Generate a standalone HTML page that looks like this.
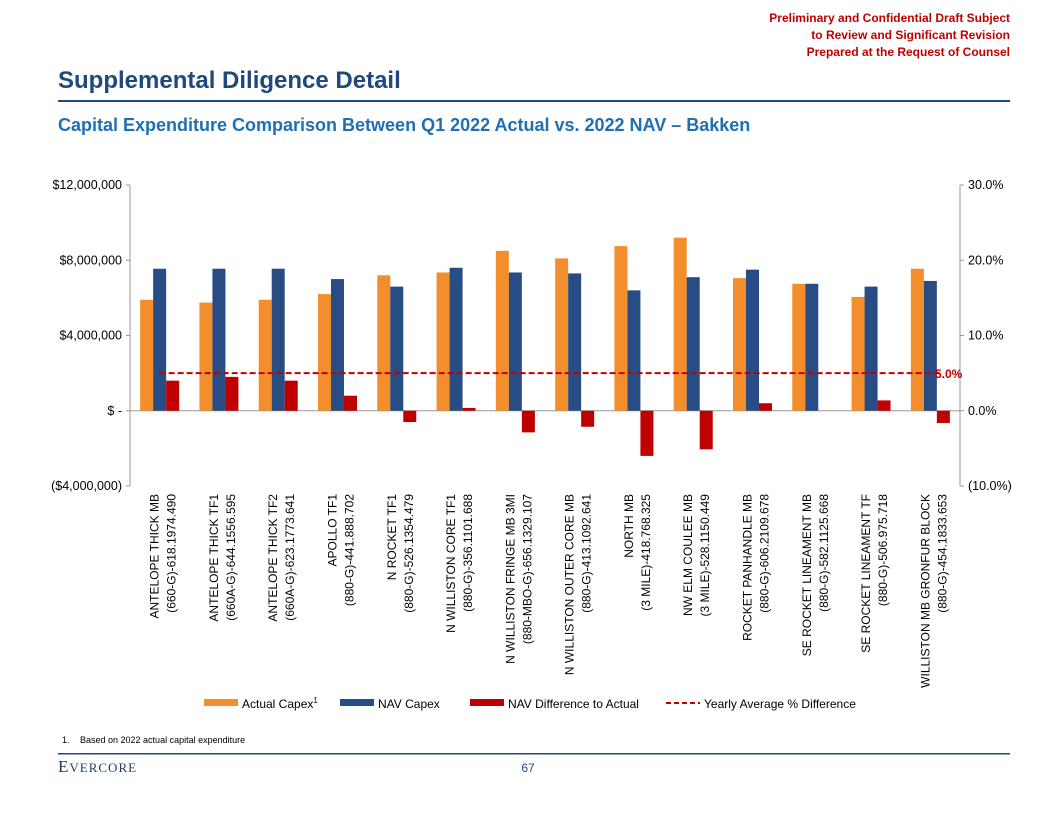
<!DOCTYPE html>
<html><head><meta charset="utf-8"><style>
body{margin:0;background:#fff;}
svg{font-family:"Liberation Sans",Arial,sans-serif;display:block}
</style></head><body>
<svg id="s" width="1056" height="816" viewBox="0 0 1056 816">
<g fill="#c00000" font-size="12" font-weight="bold" text-anchor="end">
<text x="1010" y="22">Preliminary and Confidential Draft Subject</text>
<text x="1010" y="39">to Review and Significant Revision</text>
<text x="1010" y="56">Prepared at the Request of Counsel</text>
</g>
<text x="58" y="88" font-size="24" font-weight="bold" fill="#1f497d">Supplemental Diligence Detail</text>
<rect x="58" y="100" width="952" height="2" fill="#1f497d"/>
<text x="58" y="131" font-size="18" font-weight="bold" fill="#1f6fb5">Capital Expenditure Comparison Between Q1 2022 Actual vs. 2022 NAV – Bakken</text>
<g id="chart"></g>
<g font-size="12" fill="#000">
<rect x="204" y="699" width="34" height="7" fill="#f28e2b"/>
<text x="242" y="708">Actual Capex<tspan font-size="8" dy="-5">1</tspan></text>
<rect x="340" y="699" width="34" height="7" fill="#284d84"/>
<text x="378" y="708">NAV Capex</text>
<rect x="470" y="699" width="34" height="7" fill="#c00000"/>
<text x="508" y="708">NAV Difference to Actual</text>
<line x1="666" y1="703" x2="700" y2="703" stroke="#c00000" stroke-width="2" stroke-dasharray="5,3"/>
<text x="704" y="708">Yearly Average % Difference</text>
</g>
<text x="62" y="743" font-size="9">1.<tspan x="80">Based on 2022 actual capital expenditure</tspan></text>
<rect x="58" y="753" width="952" height="1.5" fill="#1f497d"/>
<text x="58" y="772" font-family="Liberation Serif,serif" font-size="17" fill="#1f3a5f" letter-spacing="1">E<tspan font-size="13">VERCORE</tspan></text>
<text x="528" y="772" font-size="12" text-anchor="middle" fill="#1f497d">67</text>
</svg>
<script>
const categories=[["ANTELOPE THICK MB","(660-G)-618.1974.490"],["ANTELOPE THICK TF1","(660A-G)-644.1556.595"],["ANTELOPE THICK TF2","(660A-G)-623.1773.641"],["APOLLO TF1","(880-G)-441.888.702"],["N ROCKET TF1","(880-G)-526.1354.479"],["N WILLISTON CORE TF1","(880-G)-356.1101.688"],["N WILLISTON FRINGE MB 3MI","(880-MBO-G)-656.1329.107"],["N WILLISTON OUTER CORE MB","(880-G)-413.1092.641"],["NORTH MB","(3 MILE)-418.768.325"],["NW ELM COULEE MB","(3 MILE)-528.1150.449"],["ROCKET PANHANDLE MB","(880-G)-606.2109.678"],["SE ROCKET LINEAMENT MB","(880-G)-582.1125.668"],["SE ROCKET LINEAMENT TF","(880-G)-506.975.718"],["WILLISTON MB GRONFUR BLOCK","(880-G)-454.1833.653"]];
const actualCapex=[5.9e6,5.75e6,5.9e6,6.2e6,7.2e6,7.35e6,8.5e6,8.1e6,8.75e6,9.2e6,7.05e6,6.75e6,6.05e6,7.55e6];
const navCapex=[7.55e6,7.55e6,7.55e6,7.0e6,6.6e6,7.6e6,7.35e6,7.3e6,6.4e6,7.1e6,7.5e6,6.75e6,6.6e6,6.9e6];
const navDiff=[1.6e6,1.8e6,1.6e6,0.8e6,-0.6e6,0.15e6,-1.15e6,-0.85e6,-2.4e6,-2.05e6,0.4e6,0,0.55e6,-0.65e6];
const yearlyAvgPct=5.0;
const leftTicks=[12e6,8e6,4e6,0,-4e6];
const leftTickLabels=["$12,000,000","$8,000,000","$4,000,000","$ -","($4,000,000)"];
const rightTicks=[30,20,10,0,-10];
const rightTickLabels=["30.0%","20.0%","10.0%","0.0%","(10.0%)"];
const NS="http://www.w3.org/2000/svg",g=document.getElementById('chart');
const y0=185,y1=486,xL=130,xR=960;
const yL=v=>y0+(12e6-v)/16e6*(y1-y0);
const yR=v=>y0+(30-v)/40*(y1-y0);
const step=(xR-xL)/categories.length;
const xC=i=>xL+step*(i+0.5);
function el(t,a){const e=document.createElementNS(NS,t);for(const k in a)e.setAttribute(k,a[k]);g.appendChild(e);return e;}
let e=el('line',{x1:xL,y1:y0,x2:xL,y2:y1,stroke:'#999'});

e=el('line',{x1:xR,y1:y0,x2:xR,y2:y1,stroke:'#999'});

e=el('line',{x1:xL,y1:yL(0),x2:xR,y2:yL(0),stroke:'#999'});

leftTicks.forEach((v,i)=>{
 e=el('line',{x1:xL-4,y1:yL(v),x2:xL,y2:yL(v),stroke:'#999'});
 
 e=el('text',{x:xL-8,y:yL(v)+4,'font-size':12.5,'text-anchor':'end'});e.textContent=leftTickLabels[i];
 
});
rightTicks.forEach((v,i)=>{
 e=el('line',{x1:xR,y1:yR(v),x2:xR+4,y2:yR(v),stroke:'#999'});
 
 e=el('text',{x:xR+8,y:yR(v)+4,'font-size':12.5});e.textContent=rightTickLabels[i];
 
});
const bw=13;
categories.forEach((c,i)=>{
 const cx=xC(i);
 [[actualCapex,'#f28e2b','bar-actual'],[navCapex,'#284d84','bar-nav'],[navDiff,'#c00000','bar-diff']].forEach((s,j)=>{
  const v=s[0][i],yy=yL(v),yz=yL(0);
  e=el('rect',{x:cx-19.5+j*bw,y:Math.min(yy,yz),width:bw,height:Math.abs(yz-yy),fill:s[1]});
  
 });
 c.forEach((ln,k)=>{
  const tx=cx-1+k*17;
  e=el('text',{x:tx,y:494,'font-size':12,'text-anchor':'end',transform:`rotate(-90 ${tx} 494)`});e.textContent=ln;
  
 });
});
e=el('line',{x1:xC(0),y1:yR(yearlyAvgPct),x2:xC(categories.length-1)+10,y2:yR(yearlyAvgPct),stroke:'#c00000','stroke-width':2,'stroke-dasharray':'6,3'});

e=el('text',{x:935,y:yR(yearlyAvgPct)+5,'font-size':12,'font-weight':'bold',fill:'#c00000'});e.textContent=yearlyAvgPct.toFixed(1)+'%';

</script>
</body></html>
